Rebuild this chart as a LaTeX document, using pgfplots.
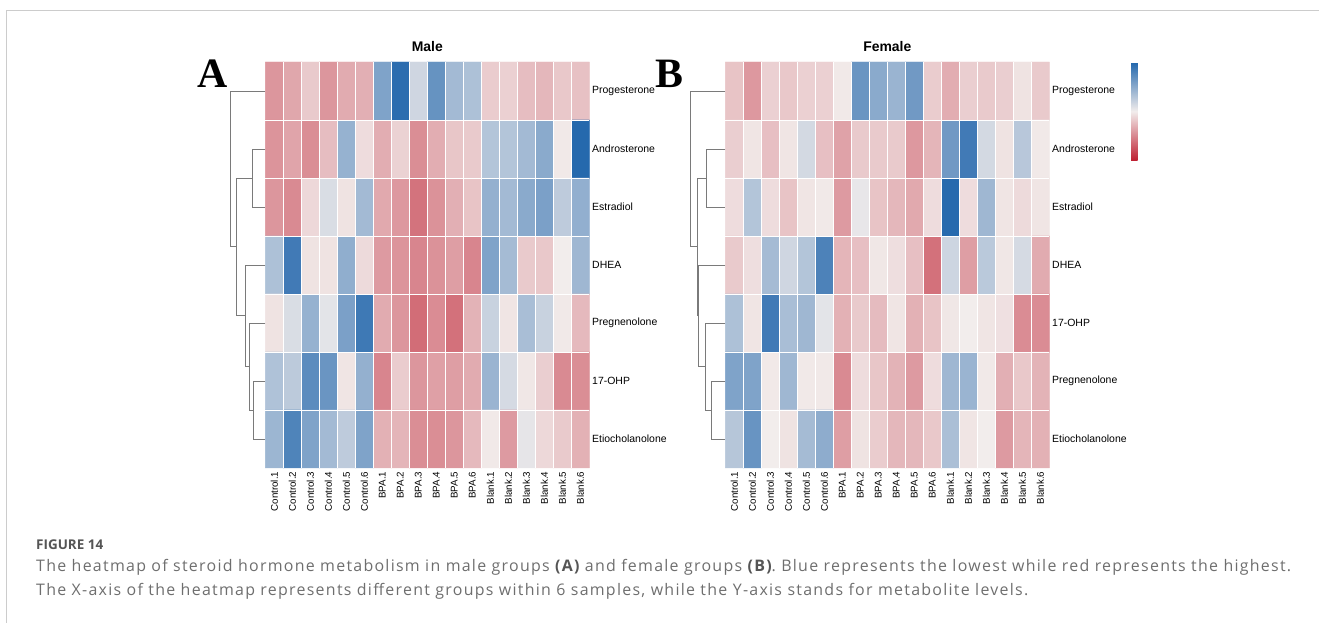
\documentclass[border=0pt]{standalone}
\usepackage{pgfplots}
\pgfplotsset{compat=1.18}
\usepackage{pgfplotstable}
\usepackage{fontspec}
\setmainfont{Liberation Sans}
\newfontfamily\serifA{Liberation Serif}
\newfontfamily\capfont[LetterSpace=8]{Open Sans}
\newfontfamily\capbold{Open Sans}
\definecolor{dendro}{HTML}{7A7A7A}
\definecolor{capgray}{HTML}{6E6E6E}
\definecolor{capdark}{HTML}{555555}
\definecolor{framegray}{HTML}{CCCCCC}
\pgfplotsset{colormap={rdbu}{rgb255=(190,30,48) rgb255=(242,237,236) rgb255=(33,102,172)}}

% Male: rows Progesterone, Androsterone, Estradiol, DHEA, Pregnenolone, 17-OHP, Etiocholanolone
\pgfplotstableread[header=false,row sep=\\]{
-0.42\\ -0.34\\ -0.17\\ -0.42\\ -0.32\\ -0.30\\ 0.55\\ 0.95\\ 0.17\\ 0.67\\ 0.38\\ 0.33\\ -0.16\\ -0.14\\ -0.23\\ -0.26\\ -0.18\\ -0.21\\
-0.43\\ -0.35\\ -0.46\\ -0.23\\ 0.44\\ -0.08\\ -0.31\\ -0.13\\ -0.46\\ -0.31\\ -0.19\\ -0.17\\ 0.30\\ 0.30\\ 0.38\\ 0.50\\ -0.02\\ 0.98\\
-0.42\\ -0.48\\ -0.10\\ 0.12\\ -0.05\\ 0.38\\ -0.33\\ -0.41\\ -0.59\\ -0.44\\ -0.30\\ -0.20\\ 0.45\\ 0.38\\ 0.50\\ 0.57\\ 0.25\\ 0.46\\
0.33\\ 0.85\\ -0.05\\ -0.05\\ 0.47\\ -0.09\\ -0.40\\ -0.43\\ -0.50\\ -0.44\\ -0.38\\ -0.50\\ 0.55\\ 0.37\\ -0.17\\ -0.18\\ 0.00\\ 0.40\\
-0.05\\ 0.12\\ 0.44\\ 0.07\\ 0.57\\ 0.86\\ -0.32\\ -0.42\\ -0.62\\ -0.47\\ -0.60\\ -0.28\\ 0.20\\ -0.04\\ 0.35\\ 0.20\\ -0.02\\ -0.25\\
0.32\\ 0.26\\ 0.72\\ 0.65\\ -0.04\\ 0.45\\ -0.50\\ -0.16\\ -0.42\\ -0.37\\ -0.38\\ -0.32\\ 0.42\\ 0.14\\ -0.03\\ -0.15\\ -0.48\\ -0.46\\
0.41\\ 0.78\\ 0.55\\ 0.38\\ 0.25\\ 0.55\\ -0.29\\ -0.27\\ -0.46\\ -0.46\\ -0.42\\ -0.25\\ -0.02\\ -0.40\\ 0.06\\ -0.10\\ -0.17\\ -0.29\\
}\maledata

% Female: rows Progesterone, Androsterone, Estradiol, DHEA, 17-OHP, Pregnenolone, Etiocholanolone
\pgfplotstableread[header=false,row sep=\\]{
-0.20\\ -0.41\\ -0.14\\ -0.18\\ -0.14\\ -0.14\\ -0.02\\ 0.65\\ 0.50\\ 0.42\\ 0.62\\ -0.16\\ -0.31\\ -0.15\\ -0.17\\ -0.15\\ -0.05\\ -0.17\\
-0.15\\ -0.04\\ -0.22\\ -0.04\\ 0.15\\ -0.22\\ -0.36\\ -0.17\\ -0.17\\ -0.17\\ -0.41\\ -0.27\\ 0.62\\ 0.85\\ 0.15\\ -0.05\\ 0.28\\ -0.02\\
-0.08\\ 0.30\\ -0.08\\ -0.20\\ -0.04\\ -0.02\\ -0.40\\ 0.05\\ -0.20\\ -0.26\\ -0.33\\ -0.08\\ 0.97\\ -0.08\\ 0.40\\ -0.04\\ -0.09\\ -0.04\\
-0.17\\ -0.07\\ 0.37\\ 0.17\\ 0.30\\ 0.79\\ -0.27\\ -0.22\\ -0.03\\ -0.07\\ -0.22\\ -0.60\\ 0.18\\ -0.38\\ 0.27\\ -0.03\\ 0.14\\ -0.32\\
0.33\\ -0.04\\ 0.85\\ 0.35\\ 0.40\\ 0.07\\ -0.29\\ -0.17\\ -0.24\\ -0.04\\ -0.29\\ -0.20\\ -0.03\\ 0.00\\ -0.04\\ -0.06\\ -0.47\\ -0.47\\
0.55\\ 0.55\\ -0.02\\ 0.40\\ -0.02\\ -0.02\\ -0.48\\ -0.08\\ -0.19\\ -0.28\\ -0.40\\ -0.08\\ 0.40\\ 0.42\\ -0.02\\ -0.30\\ -0.18\\ -0.28\\
0.29\\ 0.66\\ 0.00\\ -0.05\\ 0.37\\ 0.48\\ -0.38\\ -0.05\\ -0.16\\ -0.26\\ -0.26\\ -0.18\\ 0.34\\ -0.04\\ 0.00\\ -0.40\\ -0.27\\ -0.29\\
}\femaledata

\pgfplotsset{
  hm/.style={
    width=324bp, height=406bp, scale only axis,
    xmin=-0.5, xmax=17.5, ymin=-0.5, ymax=6.5,
    clip=false, axis on top,
    axis line style={draw=none},
    major tick length=0pt, minor tick length=0pt,
    xtick={0,...,17},
    xticklabels={Control.1,Control.2,Control.3,Control.4,Control.5,Control.6,BPA.1,BPA.2,BPA.3,BPA.4,BPA.5,BPA.6,Blank.1,Blank.2,Blank.3,Blank.4,Blank.5,Blank.6},
    x tick label style={rotate=90, anchor=east, inner sep=3.5bp, font=\fontsize{9.8}{10}\selectfont},
    ytick={0,...,6},
    yticklabel pos=right,
    y tick label style={anchor=west, inner sep=2.7bp, font=\fontsize{10.5}{11}\selectfont},
    minor xtick={0.5,1.5,...,16.5},
    minor ytick={0.5,1.5,...,5.5},
    xminorgrids, yminorgrids,
    minor grid style={white, line width=0.8bp},
    colormap name=rdbu, point meta min=-1, point meta max=1,
    title style={at={(0.5,1)}, anchor=base, yshift=4.7bp, font=\bfseries\fontsize{14}{15}\selectfont},
  },
  dendro/.style={color=dendro, line width=0.8bp, mark=none, forget plot},
}

\begin{document}
\begin{tikzpicture}
\useasboundingbox (0,0) rectangle (1319bp,623bp);
\draw[framegray, line width=1.2bp] (6.5bp,0) -- (6.5bp,612.5bp) -- (1319bp,612.5bp);

% ---------------- Male ----------------
\begin{axis}[hm, at={(265.3bp,155bp)}, anchor=south west, title={Male},
  yticklabels={Etiocholanolone,17-OHP,Pregnenolone,DHEA,Estradiol,Androsterone,Progesterone}]
\addplot[matrix plot*, mesh/cols=18, point meta=explicit]
  table[x index=0, y index=0, x expr={mod(\coordindex,18)}, y expr={6-floor((\coordindex+0.5)/18)}, meta index=0] {\maledata};
\addplot[dendro] coordinates {(-0.5,5) (-1.2,5) (-1.2,4) (-0.5,4)};
\addplot[dendro] coordinates {(-0.5,1) (-1.167,1) (-1.167,0) (-0.5,0)};
\addplot[dendro] coordinates {(-0.5,2) (-1.389,2) (-1.389,0.5) (-1.167,0.5)};
\addplot[dendro] coordinates {(-0.5,3) (-1.611,3) (-1.611,1.25) (-1.389,1.25)};
\addplot[dendro] coordinates {(-1.2,4.5) (-2.128,4.5) (-2.128,2.125) (-1.611,2.125)};
\addplot[dendro] coordinates {(-0.5,6) (-2.444,6) (-2.444,3.3125) (-2.128,3.3125)};
\end{axis}

% ---------------- Female ----------------
\begin{axis}[hm, at={(725.3bp,155bp)}, anchor=south west, title={Female},
  yticklabels={Etiocholanolone,Pregnenolone,17-OHP,DHEA,Estradiol,Androsterone,Progesterone},
  colorbar,
  colorbar shift/.style={xshift=81.7bp},
  colorbar style={at={(parent axis.north east)}, anchor=north west,
    width=6.7bp, height=98.7bp, scale only axis,
    ytick=\empty, xtick=\empty, axis line style={draw=none}}]
\addplot[matrix plot*, mesh/cols=18, point meta=explicit]
  table[x index=0, y index=0, x expr={mod(\coordindex,18)}, y expr={6-floor((\coordindex+0.5)/18)}, meta index=0] {\femaledata};
\addplot[dendro] coordinates {(-0.5,5) (-1.533,5) (-1.533,4) (-0.5,4)};
\addplot[dendro] coordinates {(-0.5,1) (-1.294,1) (-1.294,0) (-0.5,0)};
\addplot[dendro] coordinates {(-0.5,2) (-1.628,2) (-1.628,0.5) (-1.294,0.5)};
\addplot[dendro] coordinates {(-0.5,3) (-2.0,3) (-2.0,1.25) (-1.628,1.25)};
\addplot[dendro] coordinates {(-1.533,4.5) (-2.056,4.5) (-2.056,2.125) (-2.0,2.125)};
\addplot[dendro] coordinates {(-0.5,6) (-2.461,6) (-2.461,3.3125) (-2.056,3.3125)};
\end{axis}

% panel letters
\node[anchor=base west, inner sep=0pt, font=\serifA\bfseries\fontsize{42}{42}\selectfont] at (197.3bp,535.3bp) {A};
\node[anchor=base west, inner sep=0pt, font=\serifA\bfseries\fontsize{42}{42}\selectfont] at (655bp,535.3bp) {B};

% caption
\node[anchor=base west, inner sep=0pt, text=capdark, font=\capbold\bfseries\fontsize{13.5}{14}\selectfont] at (36bp,73bp) {FIGURE 14};
\node[anchor=base west, inner sep=0pt, text=capgray, font=\capfont\fontsize{16}{17}\selectfont] at (36bp,51.5bp)
  {The heatmap of steroid hormone metabolism in male groups {\color{capdark}\bfseries(A)} and female groups {\color{capdark}\bfseries(B)}. Blue represents the lowest while red represents the highest.};
\node[anchor=base west, inner sep=0pt, text=capgray, font=\capfont\fontsize{16}{17}\selectfont] at (36bp,27.5bp)
  {The X-axis of the heatmap represents different groups within 6 samples, while the Y-axis stands for metabolite levels.};
\end{tikzpicture}
\end{document}
